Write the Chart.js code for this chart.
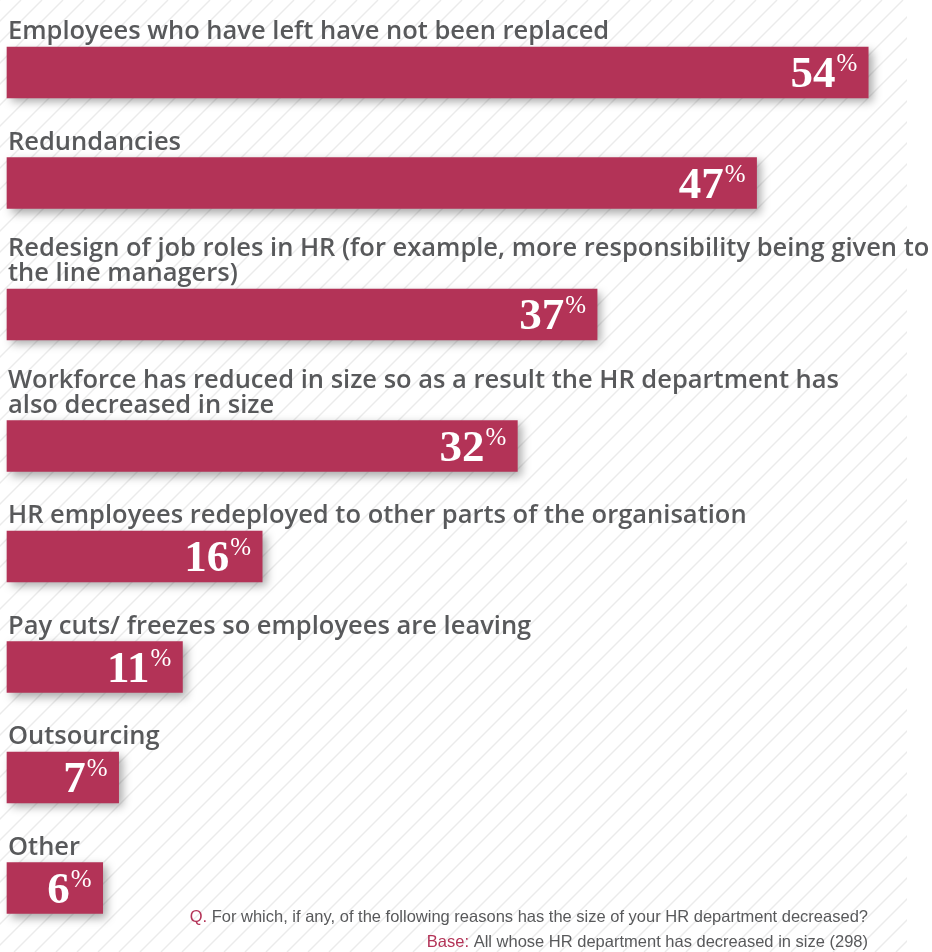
<!DOCTYPE html>
<html>
<head>
<meta charset="utf-8">
<script src="https://cdn.jsdelivr.net/npm/chart.js"></script>
<style>
  body { margin: 0; background: #fff; }
  #wrap { position: relative; width: 932px; height: 952px; }
</style>
</head>
<body>
<div id="wrap"><canvas id="myChart"></canvas></div>
<script>
// categories, one entry per bar, split into the lines shown above the bar
var categories = [
  ["Employees who have left have not been replaced"],
  ["Redundancies"],
  ["Redesign of job roles in HR (for example, more responsibility being given to", "the line managers)"],
  ["Workforce has reduced in size so as a result the HR department has", "also decreased in size"],
  ["HR employees redeployed to other parts of the organisation"],
  ["Pay cuts/ freezes so employees are leaving"],
  ["Outsourcing"],
  ["Other"]
];

// share of respondents, in percent
var percentages = [54, 47, 37, 32, 16, 11, 7, 6];

// footnote texts
var questionLabel = "Q.";
var questionText = "For which, if any, of the following reasons has the size of your HR department decreased?";
var baseLabel = "Base:";
var baseText = "All whose HR department has decreased in size (298)";

var crimson = "#b33357";
var grey = "#58595b";

// rows with two label lines need a bit more room, so the bars sit on a linear axis
var rowStep = 110.5;
var lineStep = 21;
var rowPos = [];
for (var i = 0; i < categories.length; i++) {
  if (i == 0) {
    rowPos.push(0);
  } else {
    rowPos.push(rowPos[i - 1] + rowStep + lineStep * (categories[i].length - 1));
  }
}

var barData = [];
for (var i = 0; i < percentages.length; i++) {
  barData.push({ x: percentages[i], y: rowPos[i] });
}

// diagonal hatch in the background
var hatchPlugin = {
  id: 'hatch',
  beforeDraw: function(chart) {
    var ctx = chart.ctx;
    var w = chart.width, h = chart.height;
    ctx.save();
    ctx.fillStyle = "#fff";
    ctx.fillRect(0, 0, w, h);
    ctx.beginPath();
    ctx.rect(0, 0, 907, h);
    ctx.clip();
    ctx.strokeStyle = "#ebebeb";
    ctx.lineWidth = 1.4;
    for (var k = -h; k < w; k += 21) {
      ctx.beginPath();
      ctx.moveTo(k, h);
      ctx.lineTo(k + h, 0);
      ctx.stroke();
    }
    ctx.restore();
  }
};

// soft drop shadow under the bars
var shadowPlugin = {
  id: 'barShadow',
  beforeDatasetsDraw: function(chart) {
    var ctx = chart.ctx;
    ctx.save();
    ctx.shadowColor = "rgba(0,0,0,0.35)";
    ctx.shadowBlur = 9;
    ctx.shadowOffsetX = 4;
    ctx.shadowOffsetY = 4;
  },
  afterDatasetsDraw: function(chart) {
    chart.ctx.restore();
  }
};

// category text above each bar, value inside the bar end, footnote
var textPlugin = {
  id: 'texts',
  afterDraw: function(chart) {
    var ctx = chart.ctx;
    var meta = chart.getDatasetMeta(0);
    ctx.save();
    for (var i = 0; i < meta.data.length; i++) {
      var bar = meta.data[i];
      var top = bar.y - bar.height / 2;
      var bottom = bar.y + bar.height / 2;
      var lines = categories[i];

      ctx.fillStyle = grey;
      ctx.font = '600 25.5px "Open Sans"';
      ctx.textAlign = "left";
      ctx.textBaseline = "alphabetic";
      for (var j = 0; j < lines.length; j++) {
        var baseY = top - 8 - (lines.length - 1 - j) * 25;
        ctx.fillText(lines[j], 8, baseY);
      }

      // value with a small raised percent sign
      ctx.fillStyle = "#fff";
      ctx.font = '25px "Liberation Serif"';
      var pctW = ctx.measureText("%").width;
      var right = bar.x - 11;
      ctx.textAlign = "right";
      ctx.fillText("%", right, bottom - 27);
      ctx.font = 'bold 45px "Liberation Serif"';
      ctx.fillText(String(percentages[i]), right - pctW - 1, bottom - 11);
    }

    // footnote, right aligned
    ctx.font = '16.5px "Liberation Sans Narrow", "Liberation Sans"';
    ctx.textAlign = "left";
    var qW = ctx.measureText(questionLabel + " ").width;
    var tW = ctx.measureText(questionText).width;
    var x0 = 868 - tW - qW;
    ctx.fillStyle = crimson;
    ctx.fillText(questionLabel, x0, 922);
    ctx.fillStyle = grey;
    ctx.fillText(questionText, x0 + qW, 922);

    var bW = ctx.measureText(baseLabel + " ").width;
    var b2W = ctx.measureText(baseText).width;
    x0 = 868 - b2W - bW;
    ctx.fillStyle = crimson;
    ctx.fillText(baseLabel, x0, 947);
    ctx.fillStyle = grey;
    ctx.fillText(baseText, x0 + bW, 947);
    ctx.restore();
  }
};

var ctx = document.getElementById("myChart");

var myBarChart = new Chart(ctx, {
  type: 'bar',
  data: {
    datasets: [{
      data: barData,
      backgroundColor: crimson,
      borderWidth: 0,
      barThickness: 51,
      clip: false
    }]
  },
  options: {
    indexAxis: 'y',
    responsive: true,
    maintainAspectRatio: false,
    animation: false,
    layout: {
      padding: { left: 7, right: 0, top: 0, bottom: 0 }
    },
    scales: {
      x: { type: 'linear', min: 0, max: 58, display: false },
      y: { type: 'linear', min: -72.5, max: 879.5, reverse: true, offset: false, display: false }
    },
    plugins: {
      legend: { display: false },
      tooltip: { enabled: false }
    }
  },
  plugins: [hatchPlugin, shadowPlugin, textPlugin]
});
</script>
</body>
</html>
